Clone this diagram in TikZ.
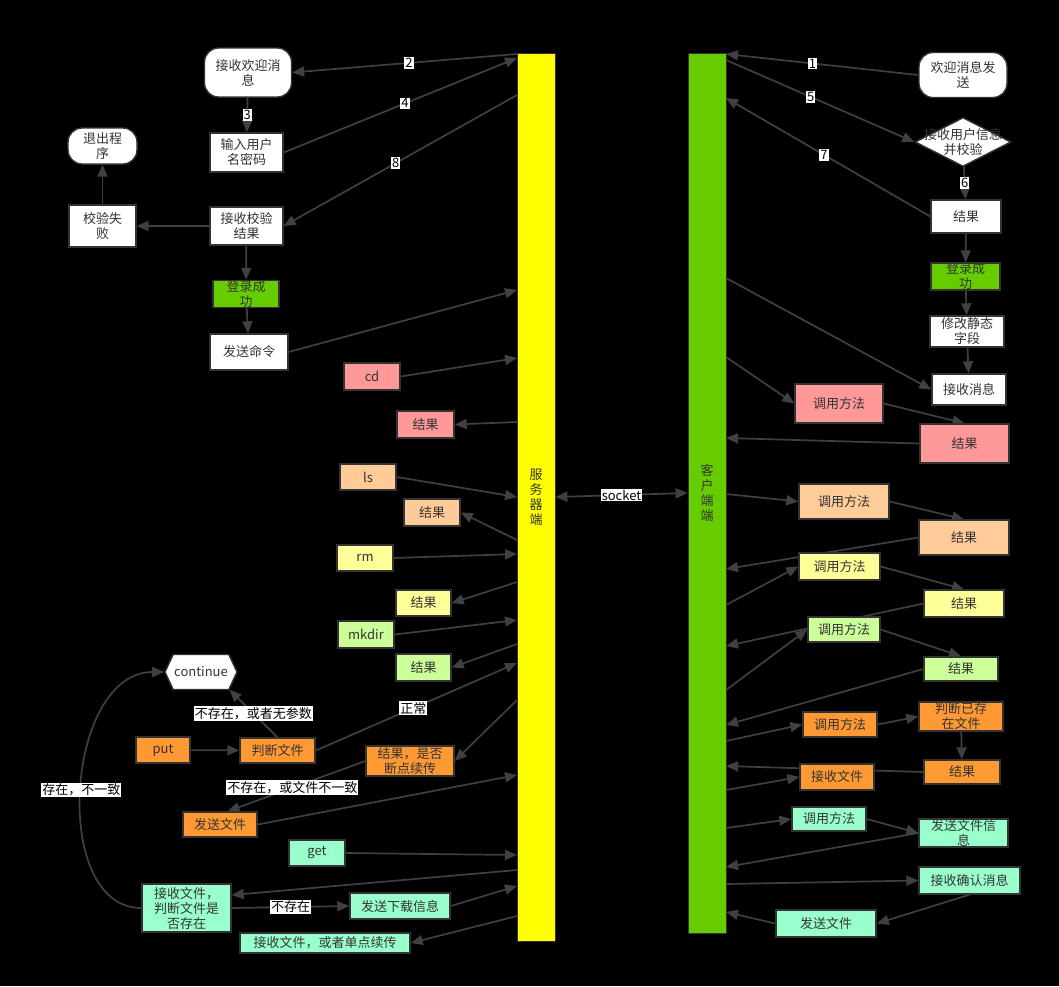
\documentclass[tikz,border=0pt]{standalone}
\usepackage{fontspec}
\setmainfont{Noto Sans CJK SC}
\usetikzlibrary{arrows.meta,shapes.geometric,shapes.symbols}
\definecolor{bd}{HTML}{333333}
\definecolor{ec}{HTML}{404040}
\definecolor{tc}{HTML}{333333}
\definecolor{cgreen}{HTML}{66CC00}
\definecolor{cpink}{HTML}{FF9999}
\definecolor{cpeach}{HTML}{FFCC99}
\definecolor{cyel}{HTML}{FFFF99}
\definecolor{clg}{HTML}{CCFF99}
\definecolor{corange}{HTML}{FF9933}
\definecolor{caqua}{HTML}{99FFCC}
\definecolor{cbar}{HTML}{FFFF00}
\newcommand\nf{\fontsize{13}{15}\selectfont}
\newcommand\lf{\fontsize{13}{15}\selectfont}
\pgfdeclarelayer{bgl}
\pgfdeclarelayer{edl}
\pgfsetlayers{bgl,edl,main}
\tikzset{
  nd/.style={draw=bd, line width=1.4pt, inner sep=0pt, align=center, text=tc, font=\nf},
  sz/.style 2 args={minimum width=#1pt, minimum height=#2pt},
  wt/.style={nd, fill=white},
  rnd/.style={wt, rounded corners=14pt},
  gr/.style={nd, fill=cgreen},
  pk/.style={nd, fill=cpink},
  pc/.style={nd, fill=cpeach},
  yl/.style={nd, fill=cyel},
  lg/.style={nd, fill=clg},
  og/.style={nd, fill=corange},
  aq/.style={nd, fill=caqua},
  bar/.style={draw=bd, line width=0.8pt, inner sep=0pt, align=center, text=tc, font=\fontsize{13}{15}\selectfont},
  ln/.style={draw=ec, line width=1.7pt, -{Triangle[length=12pt,width=10pt]}},
  lnb/.style={draw=ec, line width=1.7pt, {Triangle[length=12pt,width=10pt]}-{Triangle[length=12pt,width=10pt]}},
  lab/.style={fill=white, text=black, inner sep=1pt, font=\lf},
}
\begin{document}
\begin{tikzpicture}[x=1pt,y=-1pt]
\begin{pgfonlayer}{bgl}
\fill[black] (0,0) rectangle (1059,986);
\end{pgfonlayer}
\path[use as bounding box] (0,0) rectangle (1059,986);

% bars
\node[bar, fill=cbar, sz={38}{888}] (srv) at (536,497) {服\\务\\器\\端};
\node[bar, fill=cgreen, sz={38}{880}] (cli) at (707,493) {客\\户\\端\\端};

% left column
\node[rnd, sz={87}{49}] (wel) at (248,72.5) {接收欢迎消\\息};
\node[wt, sz={73}{39}] (inp) at (246.5,152.5) {输入用户\\名密码};
\node[rnd, sz={69}{36}] (quit) at (102.5,146) {退出程\\序};
\node[wt, sz={67}{42}] (fail) at (102.5,226) {校验失\\败};
\node[wt, sz={73}{38}] (chk) at (246.5,226) {接收校验\\结果};
\node[gr, sz={66}{26}] (lok) at (246,294) {登录成\\功};
\node[wt, sz={78}{36}] (cmd) at (249,352) {发送命令};
\node[pk, sz={56}{27}] (cd) at (372,376.5) {cd};
\node[pk, sz={57}{27}] (r1) at (425.5,424.5) {结果};
\node[pc, sz={56}{26}] (ls) at (368,477) {ls};
\node[pc, sz={56}{27}] (r2) at (432,512.5) {结果};
\node[yl, sz={56}{26}] (rm) at (365,558) {rm};
\node[yl, sz={55}{26}] (r3) at (423.5,603) {结果};
\node[lg, sz={56}{27}] (mk) at (366,634.5) {mkdir};
\node[lg, sz={55}{27}] (r4) at (423.5,667.5) {结果};
\node[wt, signal, signal to=west and east, signal pointer angle=130, sz={72}{35}] (cont) at (201,672) {continue};
\node[og, sz={54}{26}] (put) at (163,750) {put};
\node[og, sz={75}{25}] (judge) at (277.5,750.5) {判断文件};
\node[og, sz={88}{30}] (rs) at (410,761) {结果，是否\\断点续传};
\node[og, sz={74}{25}] (sendf) at (220,824.5) {发送文件};
\node[aq, sz={56}{26}] (get) at (317,853) {get};
\node[aq, sz={89}{48}] (recv) at (186.5,908) {接收文件，\\判断文件是\\否存在};
\node[aq, sz={100}{26}] (dl) at (400,906) {发送下载信息};
\node[aq, sz={170}{20}] (rcv2) at (325,943) {接收文件，或者单点续传};

% right column
\node[rnd, sz={88}{45}] (wmsg) at (963,75) {欢迎消息发\\送};
\node[wt, diamond, sz={96}{49}] (dia) at (963,142) {};
\node[font=\nf, text=tc, align=center, inner sep=0pt] (diat) at (dia.center) {接收用户信息\\并校验};
\node[wt, sz={70}{33}] (res) at (966,216.5) {结果};
\node[gr, sz={69}{25}] (rok) at (965.5,276.5) {登录成\\功};
\node[wt, sz={74}{31}] (mod) at (967,331.5) {修改静态\\字段};
\node[wt, sz={74}{31}] (rmsg) at (969,389.5) {接收消息};
\node[pk, sz={88}{39}] (m1) at (839,403.5) {调用方法};
\node[pk, sz={89}{39}] (q1) at (964.5,443.5) {结果};
\node[pc, sz={90}{35}] (m2) at (844,501.5) {调用方法};
\node[pc, sz={90}{35}] (q2) at (964,537.5) {结果};
\node[yl, sz={81}{27}] (m3) at (839.5,566.5) {调用方法};
\node[yl, sz={80}{27}] (q3) at (964,603.5) {结果};
\node[lg, sz={72}{25}] (m4) at (844,629.5) {调用方法};
\node[lg, sz={74}{24}] (q4) at (961,669) {结果};
\node[og, sz={74}{25}] (m5) at (840,724.5) {调用方法};
\node[og, sz={84}{29}] (jx) at (961,716.5) {判断已存\\在文件};
\node[og, sz={74}{26}] (rf) at (837,777) {接收文件};
\node[og, sz={76}{24}] (q5) at (962,772) {结果};
\node[aq, sz={74}{24}] (m6) at (829,819) {调用方法};
\node[aq, sz={89}{28}] (sinfo) at (963.5,833) {发送文件信\\息};
\node[aq, sz={101}{27}] (ack) at (969.5,880.5) {接收确认消息};
\node[aq, sz={100}{27}] (sf2) at (826,923.5) {发送文件};

% attachment points on the bars
\coordinate (s2) at (517,54);
\coordinate (s4) at (517,58);
\coordinate (s8) at (517,95);
\coordinate (sC) at (517,290);
\coordinate (sCd) at (517,358);
\coordinate (sR1) at (517,422);
\coordinate (sLs) at (517,497);
\coordinate (sR2) at (517,540);
\coordinate (sRm) at (517,554);
\coordinate (sR3) at (517,582);
\coordinate (sMk) at (517,620);
\coordinate (sR4) at (517,644);
\coordinate (sOk) at (517,663);
\coordinate (sR5) at (517,700);
\coordinate (sSf) at (517,775);
\coordinate (sGet) at (517,855);
\coordinate (sR6) at (517,870);
\coordinate (sDl) at (517,886);
\coordinate (sR7) at (517,916);
\coordinate (c1) at (726,54);
\coordinate (c5) at (726,60);
\coordinate (c7) at (726,98);
\coordinate (cMsg) at (726,278);
\coordinate (cM1) at (726,357);
\coordinate (cR1) at (726,438);
\coordinate (cM2) at (726,494);
\coordinate (cR2) at (726,569);
\coordinate (cM3) at (726,605);
\coordinate (cR3) at (726,646);
\coordinate (cM4) at (726,690);
\coordinate (cR4) at (726,725);
\coordinate (cM5) at (726,741);
\coordinate (cR5) at (726,766);
\coordinate (cM6) at (726,790);
\coordinate (cM7) at (726,828);
\coordinate (cR7) at (726,867);
\coordinate (cM8) at (726,884);
\coordinate (cR8) at (726,912);

\begin{pgfonlayer}{edl}
% left side
\draw[ln] (s2) -- node[lab,pos=.48]{2} (wel.east);
\draw[ln] (wel) -- node[lab]{3} (inp);
\draw[ln] (inp.east) -- node[lab,pos=.52]{4} (s4);
\draw[ln] (s8) -- node[lab,pos=.52]{8} (chk.east);
\draw[ln] (chk) -- (fail);
\draw[ln] (fail) -- (quit);
\draw[ln] (chk) -- (lok);
\draw[ln] (lok) -- (cmd);
\draw[ln] (cmd.east) -- (sC);
\draw[ln] (cd.east) -- (sCd);
\draw[ln] (sR1) -- (r1.east);
\draw[ln] (ls.east) -- (sLs);
\draw[ln] (sR2) -- (r2.east);
\draw[ln] (rm.east) -- (sRm);
\draw[ln] (sR3) -- (r3.east);
\draw[ln] (mk.east) -- (sMk);
\draw[ln] (sR4) -- (r4.east);
\draw[ln] (judge.east) -- node[lab,pos=.485]{正常} (sOk);
\draw[ln] (judge.north) -- node[lab]{不存在，或者无参数} (cont.-32);
\draw[ln] (put) -- (judge);
\draw[ln] (sR5) -- (rs.east);
\draw[ln] (rs.west) -- node[lab,pos=.53]{不存在，或文件不一致} (sendf.60);
\draw[ln] (sendf.east) -- (sSf);
\draw[ln] (get.east) -- (sGet);
\draw[ln] (sR6) -- (recv.16);
\draw[ln] (recv.east) -- node[lab]{不存在} (dl.west);
\draw[ln] (dl.east) -- (sDl);
\draw[ln] (sR7) -- (rcv2.east);
\draw[ln] (recv.west) .. controls (50,908) and (65,672) .. node[lab,pos=.5]{存在，不一致} (cont.west);
% socket
\draw[lnb] (srv.east) -- node[lab]{socket} (cli.west);
% right side
\draw[ln] (wmsg.west) -- node[lab,pos=.55]{1} (c1);
\draw[ln] (c5) -- node[lab,pos=.45]{5} (dia.west);
\draw[ln] (dia) -- node[lab]{6} (res);
\draw[ln] (res.west) -- node[lab,pos=.52]{7} (c7);
\draw[ln] (res) -- (rok);
\draw[ln] (rok) -- (mod);
\draw[ln] (mod) -- (rmsg);
\draw[ln] (cMsg) -- (rmsg.west);
\draw[ln] (cM1) -- (m1.west);
\draw[ln] (m1.east) -- (q1.north);
\draw[ln] (q1.west) -- (cR1);
\draw[ln] (cM2) -- (m2.west);
\draw[ln] (m2.east) -- (q2.north);
\draw[ln] (q2.west) -- (cR2);
\draw[ln] (cM3) -- (m3.west);
\draw[ln] (m3.east) -- (q3.north);
\draw[ln] (q3.west) -- (cR3);
\draw[ln] (cM4) -- (m4.west);
\draw[ln] (m4.east) -- (q4.north);
\draw[ln] (q4.west) -- (cR4);
\draw[ln] (cM5) -- (m5.west);
\draw[ln] (m5.east) -- (jx.west);
\draw[ln] (jx) -- (q5);
\draw[ln] (q5.west) -- (cR5);
\draw[ln] (cM6) -- (rf.west);
\draw[ln] (cM7) -- (m6.west);
\draw[ln] (m6.east) -- (sinfo.west);
\draw[ln] (sinfo.west) -- (cR7);
\draw[ln] (cM8) -- (ack.west);
\draw[ln] (ack.south) -- (sf2.east);
\draw[ln] (sf2.west) -- (cR8);
\end{pgfonlayer}
\end{tikzpicture}
\end{document}
